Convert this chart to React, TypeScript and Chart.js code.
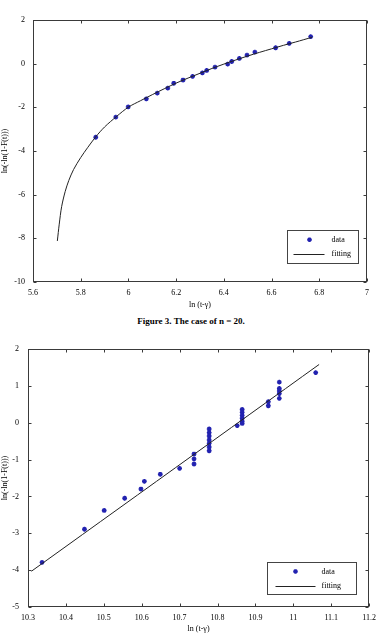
import React, { useEffect, useRef } from 'react';
import { Chart, registerables } from 'chart.js';

Chart.register(...registerables);

const FONT = '"Liberation Serif", "Times New Roman", serif';

// ---------- Top chart (n = 20) ----------
const topDataX = [5.863, 5.947, 5.999, 6.075, 6.121, 6.165, 6.19, 6.229, 6.269, 6.31, 6.328, 6.363, 6.416, 6.433, 6.465, 6.497, 6.53, 6.617, 6.674, 6.764];
const topDataY = [-3.37, -2.45, -1.98, -1.61, -1.35, -1.12, -0.9, -0.75, -0.58, -0.42, -0.31, -0.16, -0.02, 0.1, 0.24, 0.39, 0.53, 0.73, 0.93, 1.24];
const topFitX = [5.702, 5.71, 5.72, 5.735, 5.75, 5.77, 5.8, 5.83, 5.863, 5.9, 5.95, 6.0, 6.05, 6.1, 6.15, 6.2, 6.25, 6.3, 6.35, 6.4, 6.45, 6.5, 6.55, 6.6, 6.65, 6.7, 6.77];
const topFitY = [-8.12, -7.35, -6.55, -5.85, -5.35, -4.85, -4.3, -3.83, -3.35, -2.9, -2.42, -1.99, -1.7, -1.42, -1.15, -0.89, -0.66, -0.44, -0.22, -0.02, 0.17, 0.35, 0.52, 0.68, 0.84, 0.99, 1.21];
const topXRange = [5.6, 7];
const topYRange = [-10, 2];
const topXStep = 0.2;
const topYStep = 2;

// ---------- Bottom chart ----------
const botDataX = [10.337, 10.449, 10.501, 10.555, 10.598, 10.607, 10.649, 10.7, 10.738, 10.738, 10.738, 10.778, 10.778, 10.778, 10.778, 10.778, 10.778, 10.778, 10.852, 10.865, 10.865, 10.865, 10.865, 10.865, 10.865, 10.934, 10.934, 10.963, 10.963, 10.963, 10.963, 10.963, 11.059];
const botDataY = [-3.79, -2.89, -2.38, -2.05, -1.8, -1.59, -1.4, -1.24, -0.85, -0.98, -1.12, -0.17, -0.27, -0.36, -0.47, -0.56, -0.66, -0.76, -0.08, 0.36, 0.28, 0.2, 0.12, 0.04, -0.02, 0.57, 0.46, 1.1, 0.93, 0.86, 0.79, 0.66, 1.36];
const botFitX = [10.309, 11.068];
const botFitY = [-4.03, 1.58];
const botXRange = [10.3, 11.2];
const botYRange = [-5, 2];
const botXStep = 0.1;
const botYStep = 1;

const legendLabels = ['data', 'fitting'];
const xTitle = 'ln (t-γ)';
const yTitle = 'ln(-ln(1-F(t)))';
const caption = 'Figure 3. The case of n = 20.';

const MARK = '#2222b0';

function drawStar(ctx: CanvasRenderingContext2D, x: number, y: number, r: number) {
  ctx.beginPath();
  for (let k = 0; k < 4; k++) {
    const a = (k * Math.PI) / 4;
    ctx.moveTo(x - Math.cos(a) * r, y - Math.sin(a) * r);
    ctx.lineTo(x + Math.cos(a) * r, y + Math.sin(a) * r);
  }
  ctx.stroke();
}

const framePlugin = {
  id: 'frame',
  afterDatasetsDraw(chart: any) {
    const { ctx, chartArea: a, scales } = chart;
    const L = Math.round(a.left) + 0.5;
    const R = Math.round(a.right) - 0.5;
    const T = Math.round(a.top) + 0.5;
    const B = Math.round(a.bottom) - 0.5;
    ctx.save();
    ctx.strokeStyle = '#3a3a3a';
    ctx.lineWidth = 1;
    ctx.strokeRect(L, T, R - L, B - T);
    const tl = 3;
    ctx.beginPath();
    scales.x.ticks.forEach((t: any) => {
      const px = Math.round(scales.x.getPixelForValue(t.value)) + 0.5;
      ctx.moveTo(px, T); ctx.lineTo(px, T + tl);
      ctx.moveTo(px, B); ctx.lineTo(px, B - tl);
    });
    scales.y.ticks.forEach((t: any) => {
      const py = Math.round(scales.y.getPixelForValue(t.value)) + 0.5;
      ctx.moveTo(L, py); ctx.lineTo(L + tl, py);
      ctx.moveTo(R, py); ctx.lineTo(R - tl, py);
    });
    ctx.stroke();

    const lg = chart.options.plugins.boxLegend;
    if (lg) {
      const bx = Math.round(a.right - lg.right - lg.width) + 0.5;
      const by = Math.round(a.bottom - lg.bottom - lg.height) + 0.5;
      ctx.fillStyle = '#fff';
      ctx.fillRect(bx, by, lg.width, lg.height);
      ctx.strokeStyle = '#444';
      ctx.lineWidth = 1;
      ctx.strokeRect(bx, by, lg.width, lg.height);
      const row1 = by + lg.height * 0.28;
      const row2 = by + lg.height * 0.72;
      ctx.strokeStyle = MARK;
      ctx.lineWidth = 1.4;
      drawStar(ctx, bx + lg.markX, row1, 2.3);
      ctx.strokeStyle = '#222';
      ctx.lineWidth = 1;
      ctx.beginPath();
      ctx.moveTo(bx + lg.lineX0, Math.round(row2) + 0.5);
      ctx.lineTo(bx + lg.lineX1, Math.round(row2) + 0.5);
      ctx.stroke();
      ctx.fillStyle = '#000';
      ctx.font = '8px ' + FONT;
      ctx.textBaseline = 'middle';
      ctx.textAlign = 'left';
      ctx.fillText(legendLabels[0], bx + lg.textX, row1);
      ctx.fillText(legendLabels[1], bx + lg.textX, row2);
    }
    ctx.restore();
  },
};

function fmt(v: number) {
  return String(Number(v.toFixed(2)));
}

function buildConfig(p: any) {
  const pts = p.dx.map((x: number, i: number) => ({ x, y: p.dy[i] }));
  const fit = p.fx.map((x: number, i: number) => ({ x, y: p.fy[i] }));
  const tickFont = { family: FONT, size: 8 };
  return {
    type: 'scatter',
    data: {
      datasets: [
        {
          label: legendLabels[1],
          data: fit,
          showLine: true,
          borderColor: '#222',
          borderWidth: 1,
          pointRadius: 0,
          tension: 0.3,
        },
        {
          label: legendLabels[0],
          data: pts,
          showLine: false,
          pointStyle: 'star',
          pointRadius: 2.4,
          borderColor: MARK,
          backgroundColor: MARK,
          pointBorderWidth: 1.4,
        },
      ],
    },
    options: {
      responsive: false,
      animation: false,
      devicePixelRatio: 1,
      layout: { padding: p.padding },
      plugins: {
        legend: { display: false },
        tooltip: { enabled: false },
        boxLegend: p.legend,
      },
      scales: {
        x: {
          type: 'linear',
          min: p.xr[0],
          max: p.xr[1],
          ticks: { stepSize: p.xs, font: tickFont, color: '#000', padding: p.xPad, maxRotation: 0, autoSkip: false, callback: (v: number) => fmt(v) },
          grid: { display: false, drawTicks: false },
          border: { display: false },
          title: { display: true, text: xTitle, font: tickFont, color: '#000', padding: { top: 0, bottom: p.xTitlePad } },
          afterFit: (s: any) => { s.height = p.xAxisH; },
        },
        y: {
          type: 'linear',
          min: p.yr[0],
          max: p.yr[1],
          ticks: { stepSize: p.ys, font: tickFont, color: '#000', padding: p.yPad, autoSkip: false, callback: (v: number) => fmt(v) },
          grid: { display: false, drawTicks: false },
          border: { display: false },
          title: { display: true, text: yTitle, font: tickFont, color: '#000', padding: { top: 0, bottom: 0 } },
          afterFit: (s: any) => { s.width = p.yAxisW; },
        },
      },
    },
    plugins: [framePlugin],
  };
}

function ChartCanvas({ cfg, width, height, top }: any) {
  const ref = useRef<HTMLCanvasElement>(null);
  useEffect(() => {
    const chart = new Chart(ref.current as HTMLCanvasElement, buildConfig(cfg) as any);
    return () => chart.destroy();
  }, []);
  return (
    <canvas
      ref={ref}
      width={width}
      height={height}
      style={{ position: 'absolute', left: 0, top, width, height }}
    />
  );
}

const topCfg = {
  dx: topDataX, dy: topDataY, fx: topFitX, fy: topFitY,
  xr: topXRange, yr: topYRange, xs: topXStep, ys: topYStep,
  padding: { left: 0, top: 20, right: 15, bottom: 0 },
  xAxisH: 30, yAxisW: 33, xPad: 6, yPad: 8, xTitlePad: 2,
  legend: { right: 9, bottom: 19, width: 71, height: 33, markX: 22, textX: 44, lineX0: 6, lineX1: 37 },
};

const botCfg = {
  dx: botDataX, dy: botDataY, fx: botFitX, fy: botFitY,
  xr: botXRange, yr: botYRange, xs: botXStep, ys: botYStep,
  padding: { left: 0, top: 19, right: 10, bottom: 0 },
  xAxisH: 29, yAxisW: 28, xPad: 6, yPad: 9, xTitlePad: 2,
  legend: { right: 13, bottom: 13, width: 89, height: 32, markX: 28, textX: 54, lineX0: 8, lineX1: 48 },
};

export default function App() {
  return (
    <div style={{ position: 'absolute', left: 0, top: 0, width: 382, height: 636, background: '#fff', overflow: 'hidden' }}>
      <ChartCanvas cfg={topCfg} width={382} height={312} top={0} />
      <div
        style={{
          position: 'absolute', left: 0, top: 314, width: 382, textAlign: 'center',
          fontFamily: FONT, fontWeight: 'bold', fontSize: 9, lineHeight: '14px', color: '#000',
        }}
      >
        {caption}
      </div>
      <ChartCanvas cfg={botCfg} width={382} height={306} top={330} />
    </div>
  );
}
